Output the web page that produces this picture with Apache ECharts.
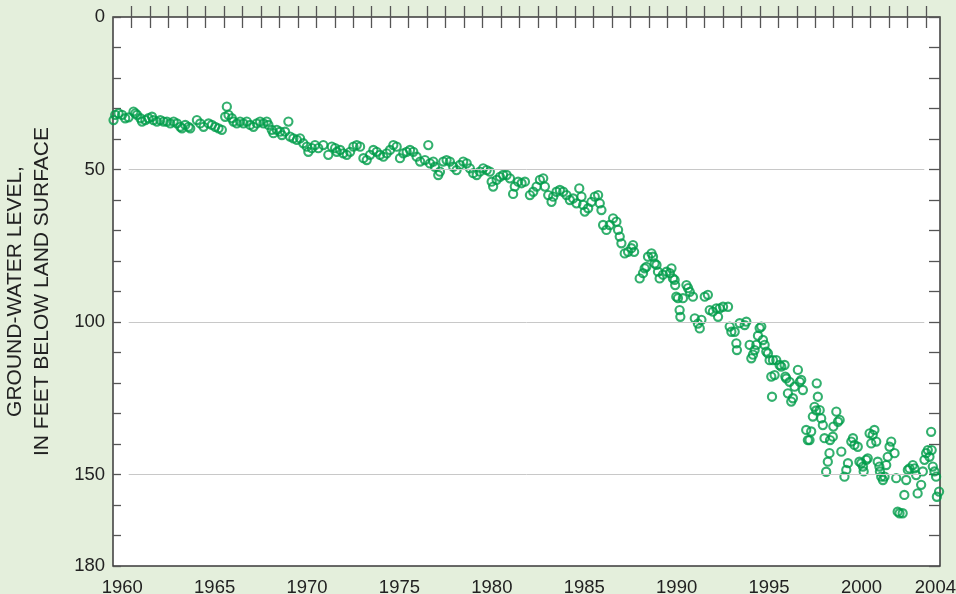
<!DOCTYPE html>
<html>
<head>
<meta charset="utf-8">
<script src="https://cdn.jsdelivr.net/npm/echarts@6.0.0/dist/echarts.min.js"></script>
<style>
  html, body { margin: 0; padding: 0; background: #e4efdc; }
  #chart { width: 956px; height: 594px; }
</style>
</head>
<body>
<div id="chart"></div>
<script>
// measurement dates (decimal years) and depth to water (feet below land surface)
const measYears = [
  1960.03, 1960.12, 1960.30, 1960.49, 1960.66, 1960.84, 1961.11, 1961.21, 1961.30, 1961.48,
  1961.57, 1961.75, 1961.92, 1962.11, 1962.19, 1962.38, 1962.56, 1962.74, 1962.92, 1963.10,
  1963.28, 1963.46, 1963.64, 1963.73, 1963.91, 1964.09, 1964.18, 1964.54, 1964.72, 1964.90,
  1965.17, 1965.35, 1965.53, 1965.71, 1965.89, 1966.07, 1966.16, 1966.25, 1966.43, 1966.52,
  1966.70, 1966.88, 1967.06, 1967.24, 1967.42, 1967.60, 1967.78, 1967.96, 1968.14, 1968.32,
  1968.41, 1968.59, 1968.68, 1968.86, 1969.04, 1969.14, 1969.31, 1969.49, 1969.58, 1969.76,
  1969.95, 1970.12, 1970.30, 1970.49, 1970.57, 1970.76, 1970.93, 1971.11, 1971.38, 1971.65,
  1971.84, 1972.02, 1972.11, 1972.29, 1972.46, 1972.65, 1972.83, 1973.01, 1973.19, 1973.37,
  1973.55, 1973.73, 1973.91, 1974.09, 1974.27, 1974.45, 1974.63, 1974.81, 1974.99, 1975.17,
  1975.35, 1975.53, 1975.71, 1975.89, 1976.07, 1976.25, 1976.43, 1976.62, 1976.88, 1977.06,
  1977.15, 1977.33, 1977.42, 1977.60, 1977.69, 1977.87, 1978.05, 1978.23, 1978.41, 1978.59,
  1978.77, 1978.95, 1979.14, 1979.31, 1979.49, 1979.68, 1979.85, 1980.03, 1980.22, 1980.39,
  1980.49, 1980.57, 1980.76, 1980.94, 1981.11, 1981.30, 1981.48, 1981.65, 1981.74, 1981.92,
  1982.11, 1982.29, 1982.56, 1982.74, 1982.92, 1983.10, 1983.28, 1983.37, 1983.55, 1983.73,
  1983.82, 1984.00, 1984.18, 1984.36, 1984.54, 1984.72, 1984.90, 1985.08, 1985.23, 1985.35,
  1985.44, 1985.53, 1985.71, 1985.89, 1986.07, 1986.25, 1986.34, 1986.43, 1986.52, 1986.70,
  1986.88, 1987.06, 1987.24, 1987.33, 1987.42, 1987.51, 1987.69, 1987.87, 1988.05, 1988.14,
  1988.20, 1988.50, 1988.68, 1988.77, 1988.86, 1988.95, 1989.14, 1989.22, 1989.31, 1989.41,
  1989.49, 1989.58, 1989.76, 1989.95, 1990.13, 1990.22, 1990.30, 1990.39, 1990.42, 1990.48,
  1990.57, 1990.66, 1990.70, 1990.84, 1991.03, 1991.12, 1991.21, 1991.38, 1991.48, 1991.65,
  1991.75, 1991.84, 1992.02, 1992.19, 1992.29, 1992.46, 1992.65, 1992.74, 1992.83, 1993.01,
  1993.28, 1993.37, 1993.46, 1993.64, 1993.73, 1993.76, 1993.91, 1994.18, 1994.27, 1994.45,
  1994.54, 1994.63, 1994.72, 1994.81, 1994.90, 1994.99, 1995.08, 1995.17, 1995.26, 1995.35,
  1995.44, 1995.53, 1995.62, 1995.66, 1995.71, 1995.80, 1995.89, 1996.07, 1996.16, 1996.34,
  1996.38, 1996.43, 1996.52, 1996.61, 1996.70, 1996.79, 1996.88, 1997.06, 1997.16, 1997.24,
  1997.33, 1997.51, 1997.60, 1997.69, 1997.78, 1997.87, 1997.96, 1998.05, 1998.08, 1998.14,
  1998.24, 1998.32, 1998.41, 1998.50, 1998.59, 1998.68, 1998.77, 1998.80, 1998.95, 1998.98,
  1999.14, 1999.23, 1999.32, 1999.41, 1999.58, 1999.68, 1999.77, 1999.95, 2000.04, 2000.12,
  2000.30, 2000.39, 2000.49, 2000.58, 2000.62, 2000.76, 2000.84, 2000.94, 2001.03, 2001.11,
  2001.20, 2001.30, 2001.38, 2001.47, 2001.50, 2001.57, 2001.66, 2001.75, 2001.84, 2001.92,
  2002.02, 2002.11, 2002.29, 2002.38, 2002.46, 2002.56, 2002.73, 2002.82, 2002.92, 2003.01,
  2003.10, 2003.28, 2003.37, 2003.46, 2003.54, 2003.73, 2003.82, 2003.91, 2004.00, 2004.09,
  2004.18, 2004.27, 2004.30, 2004.36, 2004.45, 2004.54, 2004.58, 2004.70
];
const depthFt = [
  33.8, 32.1, 31.6, 32.1, 33.2, 32.9, 31.0, 31.6, 32.1, 33.2,
  34.3, 33.8, 33.2, 32.7, 33.8, 34.3, 33.8, 34.3, 34.3, 34.9,
  34.3, 34.9, 36.0, 36.5, 35.4, 36.0, 36.5, 33.8, 34.9, 36.0,
  34.9, 35.4, 36.0, 36.5, 37.0, 32.7, 29.4, 32.1, 33.2, 34.3,
  34.9, 34.3, 34.9, 34.3, 35.4, 36.0, 34.9, 34.3, 34.9, 34.3,
  35.4, 37.0, 38.1, 37.0, 37.6, 38.7, 37.6, 34.3, 39.2, 39.8,
  40.3, 39.8, 41.4, 42.5, 44.2, 43.0, 42.0, 43.0, 42.0, 45.2,
  42.5, 43.0, 44.2, 43.6, 44.7, 45.2, 44.2, 42.5, 42.0, 42.5,
  46.3, 46.9, 45.2, 43.6, 44.2, 45.2, 45.8, 44.7, 43.6, 42.0,
  42.5, 46.3, 44.7, 44.2, 43.6, 44.2, 45.8, 47.4, 46.9, 42.0,
  48.0, 47.4, 49.1, 51.8, 50.7, 47.4, 46.9, 47.4, 49.1, 50.2,
  48.5, 47.4, 48.0, 49.6, 51.2, 51.8, 50.7, 49.6, 50.2, 50.7,
  54.0, 55.6, 53.4, 52.4, 51.8, 51.8, 52.9, 58.0, 55.6, 54.0,
  54.5, 54.0, 58.4, 57.3, 55.6, 53.4, 52.9, 55.6, 58.4, 60.6,
  58.9, 57.3, 56.7, 57.3, 58.4, 60.0, 59.5, 61.1, 56.2, 58.9,
  61.6, 63.8, 62.7, 60.6, 58.9, 58.4, 61.1, 63.3, 68.2, 69.8,
  68.2, 66.0, 67.1, 69.8, 72.0, 74.2, 77.5, 77.0, 75.8, 74.8,
  77.0, 85.7, 84.0, 82.4, 81.9, 78.6, 77.5, 78.6, 80.8, 81.3,
  83.5, 85.7, 84.5, 83.5, 84.0, 82.4, 85.7, 86.2, 87.9, 91.7,
  92.2, 96.1, 98.3, 92.2, 87.9, 88.9, 90.1, 91.7, 98.8, 100.5,
  102.1, 99.3, 91.7, 91.1, 96.1, 96.6, 95.5, 98.3, 95.5, 95.0,
  95.0, 101.5, 103.2, 103.2, 107.0, 109.2, 100.4, 101.0, 99.9, 107.5,
  111.9, 110.7, 109.2, 107.5, 104.5, 102.0, 101.5, 105.9, 107.5, 109.7,
  110.3, 112.5, 117.9, 124.5, 112.5, 117.4, 112.5, 114.1, 114.6, 114.1,
  117.9, 118.5, 123.4, 119.6, 126.1, 125.0, 121.2, 115.7, 119.6, 119.0,
  122.3, 135.4, 138.7, 138.7, 135.9, 131.0, 127.8, 129.0, 120.1, 124.5,
  128.9, 131.6, 133.8, 138.1, 149.1, 145.8, 143.0, 138.7, 137.6, 134.3,
  129.4, 132.7, 132.1, 142.5, 150.7, 148.5, 146.3, 139.2, 138.1, 140.3,
  140.9, 145.8, 146.3, 147.4, 149.0, 145.2, 144.7, 136.5, 139.8, 137.0,
  135.4, 139.2, 145.8, 147.4, 149.0, 150.7, 151.8, 150.7, 146.9, 144.2,
  140.9, 139.2, 143.0, 151.2, 162.2, 162.7, 162.7, 156.7, 151.8, 148.5,
  148.0, 146.9, 148.0, 150.2, 156.2, 153.4, 149.0, 145.2, 143.0, 142.0,
  144.2, 136.0, 142.0, 147.4, 149.0, 150.7, 157.3, 155.6
];

const xLabelYears = [1960, 1965, 1970, 1975, 1980, 1985, 1990, 1995, 2000, 2004];
const xTickYears = [
  1961, 1962, 1963, 1964, 1965, 1966, 1967, 1968, 1969, 1970, 1971, 1972, 1973, 1974, 1975,
  1976, 1977, 1978, 1979, 1980, 1981, 1982, 1983, 1984, 1985, 1986, 1987, 1988, 1989, 1990,
  1991, 1992, 1993, 1994, 1995, 1996, 1997, 1998, 1999, 2000, 2001, 2002, 2003, 2004
];
const yLabelValues = [0, 50, 100, 150, 180];
const gridDepths = [50, 100, 150];

const font = "'Liberation Sans', Arial, sans-serif";
const green = '#009c4a';
const tickStyle = { color: '#555', width: 1.3 };

const chart = echarts.init(document.getElementById('chart'));

chart.setOption({
  backgroundColor: '#e4efdc',
  animation: false,
  grid: {
    left: 113, right: 16, top: 17, bottom: 28,
    outerBoundsMode: 'none',
    show: true,
    backgroundColor: '#ffffff',
    borderColor: '#3a3a3a',
    borderWidth: 1.5
  },
  xAxis: [
    {
      type: 'value', min: 1960, max: 2004.75, position: 'bottom',
      axisLine: { show: false },
      splitLine: { show: false },
      axisTick: { inside: true, length: 11, customValues: xTickYears, lineStyle: tickStyle },
      axisLabel: {
        // labels sit in the middle of each year
        customValues: xLabelYears.map(y => y + 0.5),
        formatter: v => String(Math.floor(v)),
        color: '#222', fontSize: 18.5, fontFamily: font, margin: 12
      }
    },
    {
      type: 'value', min: 1960, max: 2004.75, position: 'top',
      axisLine: { show: false },
      splitLine: { show: false },
      axisTick: { inside: true, length: 11, customValues: xTickYears, lineStyle: tickStyle },
      axisLabel: { show: false }
    }
  ],
  yAxis: [
    {
      type: 'value', inverse: true, min: 0, max: 180, interval: 10, position: 'left',
      axisLine: { show: false },
      splitLine: { show: false },
      axisTick: { inside: true, length: 8, lineStyle: tickStyle },
      axisLabel: { customValues: yLabelValues, color: '#222', fontSize: 18.5, fontFamily: font, margin: 8 },
      name: 'GROUND-WATER LEVEL,\nIN FEET BELOW LAND SURFACE',
      nameLocation: 'middle',
      nameRotate: 90,
      nameGap: 57,
      nameTextStyle: { color: '#222', fontSize: 21, fontFamily: font, lineHeight: 27 }
    },
    {
      type: 'value', inverse: true, min: 0, max: 180, interval: 10, position: 'right',
      axisLine: { show: false },
      splitLine: { show: false },
      axisTick: { inside: true, length: 11, lineStyle: tickStyle },
      axisLabel: { show: false }
    }
  ],
  series: [
    {
      type: 'scatter',
      xAxisIndex: 0,
      yAxisIndex: 0,
      data: measYears.map((y, i) => [y, depthFt[i]]),
      symbol: 'circle',
      symbolSize: 8.2,
      itemStyle: { color: 'rgba(255,255,255,0)', borderColor: green, borderWidth: 2.1 },
      markLine: {
        silent: true,
        symbol: 'none',
        label: { show: false },
        lineStyle: { color: '#c8c8c8', type: 'solid', width: 1 },
        data: gridDepths.map(d => [{ coord: [1960.85, d] }, { coord: [2003.9, d] }])
      }
    }
  ]
});
</script>
</body>
</html>
